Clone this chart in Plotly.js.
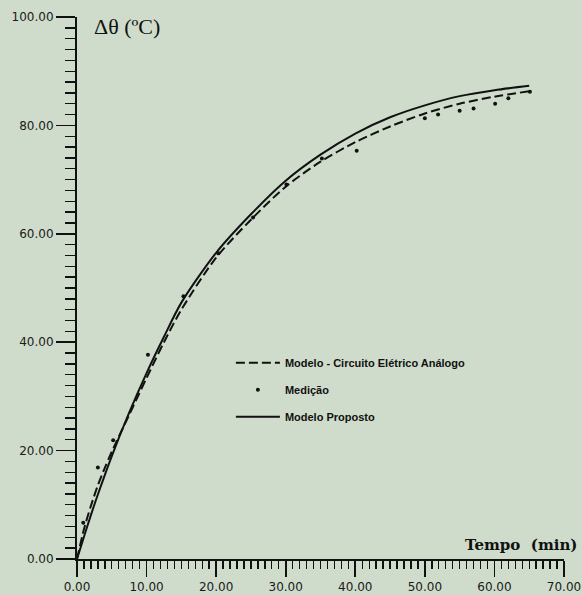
<!DOCTYPE html>
<html>
<head>
<meta charset="utf-8">
<script src="https://cdn.plot.ly/plotly-3.0.1.min.js"></script>
<style>
html,body{margin:0;padding:0;background:#cfdccb;}
#chart{width:582px;height:595px;}
</style>
</head>
<body>
<div id="chart"></div>
<script>
// Modelo - Circuito Elétrico Análogo (dashed)
const tempoAnalogo = [0, 1, 2, 3, 4, 5, 7.5, 10, 12.5, 15, 20, 25, 30, 35, 40, 45, 50, 55, 60, 65];
const deltaAnalogo = [0, 5.5, 9.8, 13.6, 16.8, 19.8, 26.6, 33.4, 40.0, 46.0, 55.6, 62.6, 68.7, 73.3, 76.9, 79.8, 82.2, 84.0, 85.3, 86.3];

// Medição (points)
const tempoMedicao = [0.9, 3.0, 5.2, 10.2, 15.3, 20.3, 25.3, 30.1, 35.2, 40.2, 50.0, 51.9, 55.0, 57.0, 60.1, 62.0, 65.1];
const deltaMedicao = [6.7, 16.9, 21.9, 37.7, 48.5, 56.4, 63.0, 69.1, 73.9, 75.3, 81.3, 82.0, 82.7, 83.1, 84.0, 85.0, 86.2];

// Modelo Proposto (solid)
const tempoProposto = [0, 1, 2, 3, 5, 7.5, 10, 12.5, 15, 20, 25, 30, 35, 40, 45, 50, 55, 60, 65];
const deltaProposto = [0, 4.1, 8.1, 11.9, 19.0, 27.0, 34.3, 41.0, 47.3, 56.5, 63.6, 69.8, 74.6, 78.5, 81.5, 83.7, 85.4, 86.5, 87.3];

const xTicks = [0, 10, 20, 30, 40, 50, 60, 70];
const yTicks = [0, 20, 40, 60, 80, 100];

const bg = '#cfdccb';
const ink = '#111111';

const traces = [
  {
    x: tempoAnalogo, y: deltaAnalogo, type: 'scatter', mode: 'lines',
    name: 'Modelo - Circuito Elétrico Análogo', legendgroup: 'a',
    line: {color: ink, width: 2, dash: '9px,4px', shape: 'spline', smoothing: 0.8}
  },
  {
    x: tempoMedicao, y: deltaMedicao, type: 'scatter', mode: 'markers',
    name: 'Medição', legendgroup: 'b',
    marker: {color: ink, size: 4}
  },
  {
    x: tempoProposto, y: deltaProposto, type: 'scatter', mode: 'lines',
    name: 'Modelo Proposto', legendgroup: 'c',
    line: {color: ink, width: 2, shape: 'spline', smoothing: 0.8}
  }
];

const tickFont = {family: 'DejaVu Sans', size: 12, color: '#1a1a1a'};

const layout = {
  width: 582, height: 595,
  paper_bgcolor: bg, plot_bgcolor: bg,
  margin: {l: 77, r: 18, t: 17, b: 36},
  showlegend: true,
  legend: {
    x: 0.316, y: 0.389, xanchor: 'left', yanchor: 'top',
    bgcolor: 'rgba(0,0,0,0)', borderwidth: 0,
    font: {family: 'Liberation Sans Narrow, Liberation Sans', size: 11, color: ink, weight: 'bold'},
    tracegroupgap: 8, traceorder: 'grouped', itemwidth: 44
  },
  xaxis: {
    range: [0, 70], tickvals: xTicks, tickformat: '.2f',
    showgrid: false, zeroline: false,
    showline: true, linecolor: ink, linewidth: 2,
    ticks: 'outside', ticklen: 16, tickwidth: 1.6, tickcolor: ink,
    minor: {dtick: 1, ticklen: 8, tickwidth: 1.4, tickcolor: ink, ticks: 'outside', showgrid: false},
    tickfont: tickFont, fixedrange: true
  },
  yaxis: {
    range: [0, 100], tickvals: yTicks, tickformat: '.2f',
    showgrid: false, zeroline: false,
    showline: true, linecolor: ink, linewidth: 2,
    ticks: 'outside', ticklen: 19, tickwidth: 1.6, tickcolor: ink,
    minor: {dtick: 2, ticklen: 10, tickwidth: 1.4, tickcolor: ink, ticks: 'outside', showgrid: false},
    tickfont: tickFont, fixedrange: true
  },
  annotations: [
    {
      text: 'Δθ (ºC)', xref: 'paper', yref: 'paper', x: 0.031, y: 0.982,
      xanchor: 'left', yanchor: 'middle', showarrow: false,
      font: {family: 'Liberation Serif', size: 22, color: ink}
    },
    {
      text: 'Tempo  (min)', xref: 'paper', yref: 'paper', x: 1.031, y: 0.026,
      xanchor: 'right', yanchor: 'middle', showarrow: false,
      font: {family: 'DejaVu Serif', size: 15, color: ink, weight: 'bold'}
    }
  ]
};

Plotly.newPlot('chart', traces, layout, {displayModeBar: false, staticPlot: true});
</script>
</body>
</html>
